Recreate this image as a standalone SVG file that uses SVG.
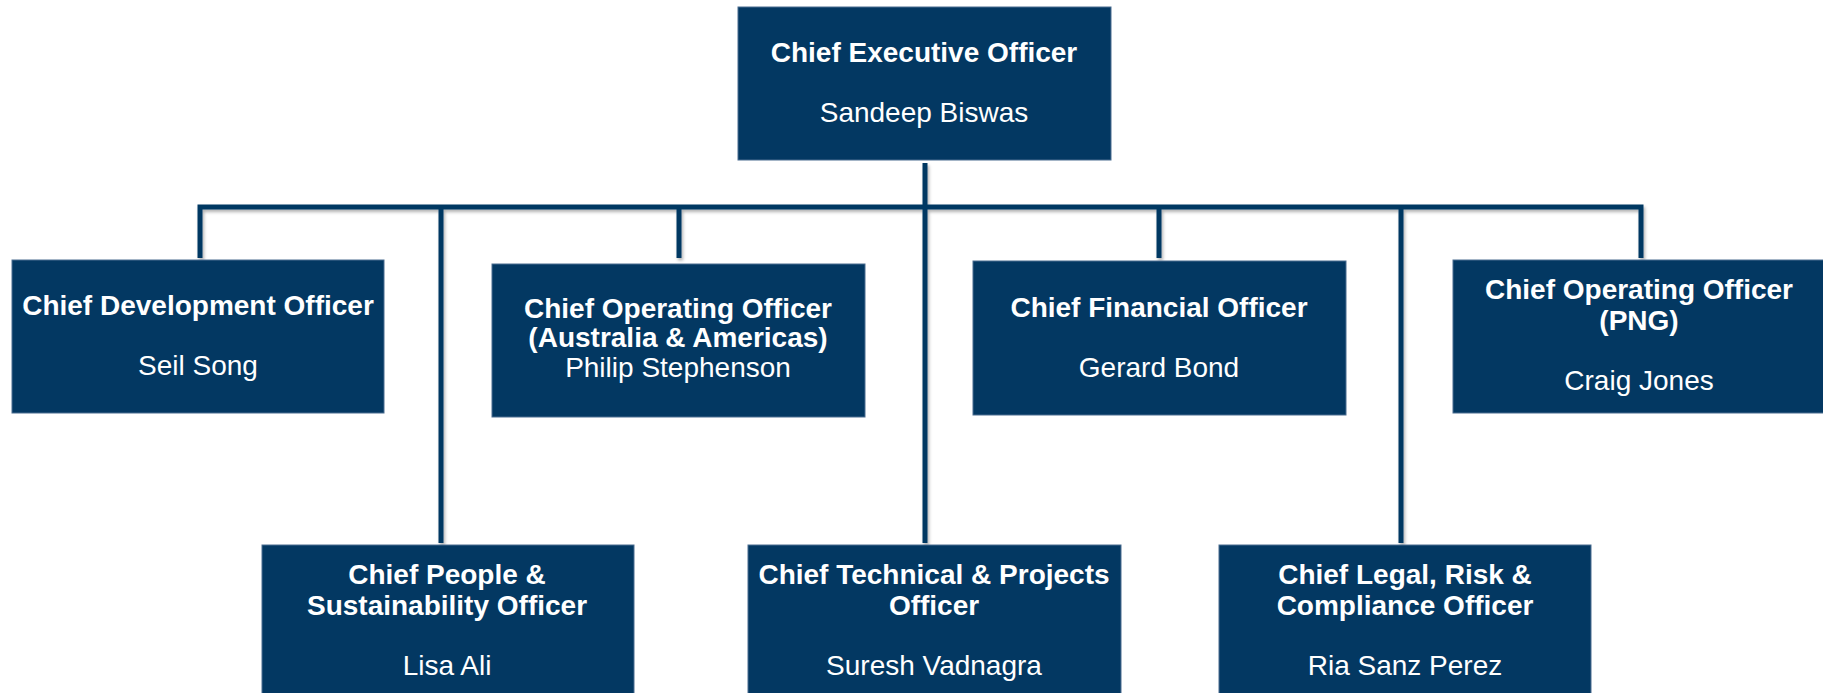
<svg xmlns="http://www.w3.org/2000/svg" width="1823" height="693" viewBox="0 0 1823 693">
<style>
.box{fill:#033862;stroke:#4a6d90;stroke-width:1}
.t{font-family:"Liberation Sans",Arial,sans-serif;font-size:28px;fill:#ffffff;text-anchor:middle}
.b{font-weight:bold}
.ln{stroke:#033862;stroke-width:5;fill:none;stroke-linecap:butt}
</style>
<defs>
<filter id="sh" x="-5%" y="-5%" width="110%" height="110%">
<feDropShadow dx="1.5" dy="2.5" stdDeviation="1.5" flood-color="#000" flood-opacity="0.3"/>
</filter>
</defs>
<rect width="1823" height="693" fill="#ffffff"/>
<g id="connectors" filter="url(#sh)">
<path class="ln" d="M925 163V543"/>
<path class="ln" d="M200 258V207H1641V258"/>
<path class="ln" d="M679 207V258"/>
<path class="ln" d="M1159 207V258"/>
<path class="ln" d="M441 207V543"/>
<path class="ln" d="M1401 207V543"/>
</g>
<g id="ceo">
<rect class="box" x="738" y="7" width="373" height="153"/>
<text class="t b" x="924" y="62">Chief Executive Officer</text>
<text class="t" x="924" y="122">Sandeep Biswas</text>
</g>
<g id="cdo">
<rect class="box" x="12" y="260" width="372" height="153"/>
<text class="t b" x="198" y="315">Chief Development Officer</text>
<text class="t" x="198" y="375">Seil Song</text>
</g>
<g id="coo-aus">
<rect class="box" x="492" y="264" width="373" height="153"/>
<text class="t b" x="678" y="318">Chief Operating Officer</text>
<text class="t b" x="678" y="347">(Australia &amp; Americas)</text>
<text class="t" x="678" y="377">Philip Stephenson</text>
</g>
<g id="cfo">
<rect class="box" x="973" y="261" width="373" height="154"/>
<text class="t b" x="1159" y="317">Chief Financial Officer</text>
<text class="t" x="1159" y="377">Gerard Bond</text>
</g>
<g id="coo-png">
<rect class="box" x="1453" y="260" width="373" height="153"/>
<text class="t b" x="1639" y="299">Chief Operating Officer</text>
<text class="t b" x="1639" y="330">(PNG)</text>
<text class="t" x="1639" y="390">Craig Jones</text>
</g>
<g id="cpso">
<rect class="box" x="262" y="545" width="372" height="155"/>
<text class="t b" x="447" y="584">Chief People &amp;</text>
<text class="t b" x="447" y="615">Sustainability Officer</text>
<text class="t" x="447" y="675">Lisa Ali</text>
</g>
<g id="ctpo">
<rect class="box" x="748" y="545" width="373" height="155"/>
<text class="t b" x="934" y="584">Chief Technical &amp; Projects</text>
<text class="t b" x="934" y="615">Officer</text>
<text class="t" x="934" y="675">Suresh Vadnagra</text>
</g>
<g id="clrco">
<rect class="box" x="1219" y="545" width="372" height="155"/>
<text class="t b" x="1405" y="584">Chief Legal, Risk &amp;</text>
<text class="t b" x="1405" y="615">Compliance Officer</text>
<text class="t" x="1405" y="675">Ria Sanz Perez</text>
</g>
</svg>
